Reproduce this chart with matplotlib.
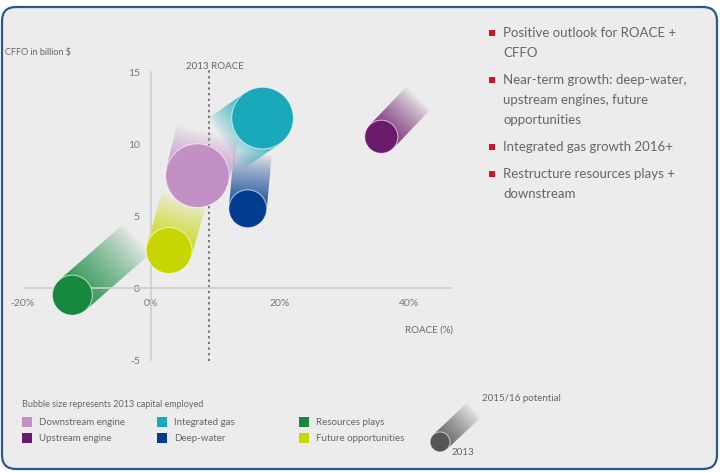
import numpy as np
import matplotlib
matplotlib.use("Agg")
import matplotlib.pyplot as plt
from matplotlib.patches import Ellipse, Rectangle, FancyBboxPatch, PathPatch
from matplotlib.path import Path
from matplotlib.colors import to_rgb

plt.rcParams['font.family'] = ['Lato', 'DejaVu Sans']
plt.rcParams['axes.unicode_minus'] = False

# datos
segmentos = ["Downstream engine", "Upstream engine", "Integrated gas",
             "Deep-water", "Resources plays", "Future opportunities"]
colores = ["#c290c4", "#6b1b6b", "#1aa9bb", "#003c8f", "#16893f", "#c7d600"]
roace_2013 = [7.2, 35.7, 17.3, 15.0, -12.2, 2.8]
cffo_2013 = [7.8, 10.5, 11.8, 5.5, -0.5, 2.6]
roace_potencial = [8.8, 41.5, 11.5, 15.8, -2.2, 5.2]
cffo_potencial = [10.8, 13.2, 10.0, 9.4, 3.4, 6.3]
capital_2013 = [48, 13, 45, 17, 19, 25]
roace_grupo_2013 = 9.0

xticks = [-20, 0, 20, 40]
xtick_labels = ["-20%", "0%", "20%", "40%"]
yticks = [-5, 0, 5, 10, 15]

puntos = [["Positive outlook for ROACE +", "CFFO"],
          ["Near-term growth: deep-water,", "upstream engines, future", "opportunities"],
          ["Integrated gas growth 2016+"],
          ["Restructure resources plays +", "downstream"]]

W, H = 720, 473
GRIS = "#666666"
fig = plt.figure(figsize=(7.2, 4.73), dpi=100, facecolor="white")

# capa de fondo en pixeles (marco, textos, leyenda)
lax = fig.add_axes([0, 0, 1, 1])
lax.set_xlim(0, W)
lax.set_ylim(H, 0)
lax.axis("off")
lax.set_zorder(0)
lax.set_autoscale_on(False)

ax = fig.add_axes([9.1 / W, 1 - 388.8 / H, 464.4 / W, 345.6 / H])
ax.set_zorder(1)
ax.patch.set_alpha(0)
ax.set_xlim(-22, 50)
ax.set_ylim(-7, 17)
ax.set_autoscale_on(False)


def dibujarEstela(eje, x0, y0, x1, y1, r, color, a0=0.9, z=2):
    T = eje.transData
    p0 = T.transform((x0, y0))
    p1 = T.transform((x1, y1))
    d = p1 - p0
    L = np.hypot(*d)
    u = d / L
    n = np.array([-u[1], u[0]])
    ang = np.linspace(0, np.pi, 40)
    cap = [p1 + r * (n * np.cos(a) + u * np.sin(a)) for a in ang]
    pts = np.vstack([p0 + n * r] + cap + [p0 - n * r, p0 + n * r])
    dpts = T.inverted().transform(pts)
    patch = PathPatch(Path(dpts, closed=True), transform=T, fc="none", ec="none")
    eje.add_patch(patch)
    xmin, ymin = dpts.min(0)
    xmax, ymax = dpts.max(0)
    X, Y = np.meshgrid(np.linspace(xmin, xmax, 220), np.linspace(ymin, ymax, 220))
    P = T.transform(np.column_stack([X.ravel(), Y.ravel()]))
    t = ((P - p0) @ u / L).reshape(X.shape)
    alfa = a0 * np.clip(1 - t, 0, 1) ** 0.8
    rgba = np.zeros(X.shape + (4,))
    rgba[..., :3] = to_rgb(color)
    rgba[..., 3] = alfa
    im = eje.imshow(rgba, extent=(xmin, xmax, ymin, ymax), origin="lower",
                    aspect="auto", interpolation="bilinear", zorder=z)
    im.set_clip_path(patch)


def dibujarBurbuja(eje, x, y, r, color, z=5):
    T = eje.transData
    sx = abs(T.transform((1, 0))[0] - T.transform((0, 0))[0])
    sy = abs(T.transform((0, 1))[1] - T.transform((0, 0))[1])
    e = Ellipse((x, y), 2 * r / sx, 2 * r / sy, facecolor=color,
                edgecolor=(1, 1, 1, 0.6), lw=0.8, zorder=z)
    eje.add_patch(e)


# marco redondeado
marco = FancyBboxPatch((2, 7), 715, 462, boxstyle="round,pad=0,rounding_size=14",
                       facecolor="#ececec", edgecolor="#2a5793", lw=1.6, zorder=0)
lax.add_patch(marco)

# ejes
for lado in ["top", "right"]:
    ax.spines[lado].set_visible(False)
ax.spines["left"].set_position(("data", 0))
ax.spines["bottom"].set_position(("data", 0))
ax.spines["left"].set_bounds(-5, 15)
ax.spines["bottom"].set_bounds(-19.6, 46.5)
for lado in ["left", "bottom"]:
    ax.spines[lado].set_color("#cdcdcd")
    ax.spines[lado].set_linewidth(1.2)
ax.set_xticks(xticks)
ax.set_xticklabels(xtick_labels)
ax.set_yticks(yticks)
ax.tick_params(length=0, labelsize=7.5, colors="#777777")
ax.tick_params(axis="x", pad=8)
ax.tick_params(axis="y", pad=8)

ax.vlines(roace_grupo_2013, -5.1, 15.2, colors="#555555", linestyles=(0, (1.5, 2.2)), lw=1.1, zorder=1)
ax.text(roace_grupo_2013 + 0.9, 15.4, "2013 ROACE", ha="center", va="center", fontsize=7, color=GRIS)
ax.text(46.8, -2.95, "ROACE (%)", ha="right", va="center", fontsize=7, color=GRIS)
lax.text(5, 52, "CFFO in billion $", ha="left", va="center", fontsize=6.5, color=GRIS)

radios = [4.6 * np.sqrt(c) for c in capital_2013]
for i in range(len(segmentos)):
    dibujarEstela(ax, roace_2013[i], cffo_2013[i], roace_potencial[i], cffo_potencial[i],
                  radios[i], colores[i], a0=0.92, z=2)
orden = [4, 5, 3, 0, 2, 1]
for i in orden:
    dibujarBurbuja(ax, roace_2013[i], cffo_2013[i], radios[i], colores[i])

ax.set_xlim(-22, 50)
ax.set_ylim(-7, 17)

# texto derecha
y = 33
for parrafo in puntos:
    lax.add_patch(Rectangle((489, y - 3), 6, 6, facecolor="#d4122a", edgecolor="none"))
    for linea in parrafo:
        lax.text(503, y, linea, ha="left", va="center", fontsize=9.5, color=GRIS)
        y += 20
    y += 7

# leyenda
lax.text(22, 404, "Bubble size represents 2013 capital employed", ha="left", va="center",
         fontsize=6.5, color=GRIS)
orden_leyenda = [0, 2, 4, 1, 3, 5]
cols_x = [22, 157, 299]
filas_y = [422, 438]
for k, i in enumerate(orden_leyenda):
    cx = cols_x[k % 3]
    cy = filas_y[k // 3]
    lax.add_patch(Rectangle((cx, cy - 5), 10, 10, facecolor=colores[i], edgecolor="none"))
    lax.text(cx + 17, cy, segmentos[i], ha="left", va="center", fontsize=7, color=GRIS)

dibujarEstela(lax, 440, 442, 474, 410, 10, "#4a4a4a", a0=0.85, z=2)
dibujarBurbuja(lax, 440, 442, 10, "#555555")
lax.text(463, 452, "2013", ha="center", va="center", fontsize=7, color=GRIS)
lax.text(482, 398, "2015/16 potential", ha="left", va="center", fontsize=7, color=GRIS)
lax.set_xlim(0, W)
lax.set_ylim(H, 0)

fig.savefig("out.png", dpi=100, facecolor="white")
